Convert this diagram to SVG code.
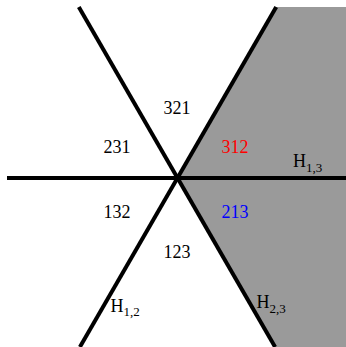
<svg xmlns="http://www.w3.org/2000/svg" width="346" height="347" viewBox="0 0 346 347">
<style>
.ln{stroke:#000;stroke-width:4;fill:none}
text{font-family:"Liberation Serif","Times New Roman",serif;font-size:18px;text-anchor:middle}
.lab{text-anchor:start}
.sub{font-size:13px}
</style>
<rect width="346" height="347" fill="#fff"/>
<g id="region-shaded">
<polygon points="177.5,178 276.2,7 346,7 346,347 275.1,347" fill="#9a9a9a"/>
</g>
<g id="connectors">
<line class="ln" x1="7" y1="178" x2="346" y2="178"/>
<line class="ln" x1="78.8" y1="7" x2="275.1" y2="347"/>
<line class="ln" x1="276.2" y1="7" x2="79.9" y2="347"/>
</g>
<g id="r321"><text x="177" y="113.5">321</text></g>
<g id="r231"><text x="117" y="153.3">231</text></g>
<g id="r312"><text x="235" y="153.3" fill="#ff0000">312</text></g>
<g id="r132"><text x="117" y="218.3">132</text></g>
<g id="r213"><text x="235" y="218.3" fill="#0000ff">213</text></g>
<g id="r123"><text x="177" y="258.3">123</text></g>
<g id="H13"><text class="lab" x="293" y="167.3">H<tspan class="sub" dy="4.2">1,3</tspan></text></g>
<g id="H23"><text class="lab" x="256.5" y="308.3">H<tspan class="sub" dy="4.2">2,3</tspan></text></g>
<g id="H12"><text class="lab" x="110.5" y="311.7">H<tspan class="sub" dy="4.2">1,2</tspan></text></g>
</svg>
